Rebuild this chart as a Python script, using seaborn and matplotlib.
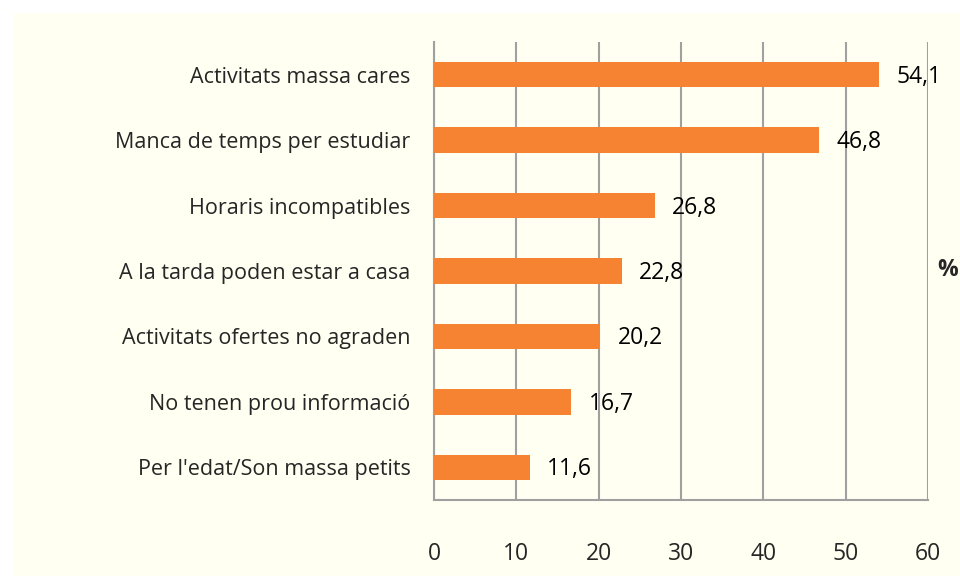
import matplotlib
matplotlib.use("Agg")
import matplotlib.pyplot as plt
from matplotlib.patches import Rectangle
import pandas as pd
import seaborn as sns

# ---------------- data ----------------
categories = [
    "Activitats massa cares",
    "Manca de temps per estudiar",
    "Horaris incompatibles",
    "A la tarda poden estar a casa",
    "Activitats ofertes no agraden",
    "No tenen prou informació",
    "Per l'edat/Son massa petits",
]
values = [54.1, 46.8, 26.8, 22.8, 20.2, 16.7, 11.6]
x_ticks = [0, 10, 20, 30, 40, 50, 60]

df = pd.DataFrame({"motiu": categories, "pct": values})

bg = "#FFFFF2"
bar_color = "#F68332"
grid_color = "#A0A0A0"

sns.set_theme(style="white")
plt.rcParams["font.family"] = ["Open Sans", "DejaVu Sans"]

fig = plt.figure(figsize=(9.6, 5.76), dpi=100)
fig.patch.set_facecolor("white")
fig.patches.append(Rectangle((13 / 960, 0), 1, 1 - 13 / 576, transform=fig.transFigure,
                             facecolor=bg, edgecolor="none", zorder=-10))

ax = fig.add_axes([434 / 960, 1 - 500 / 576, (928 - 434) / 960, (500 - 42) / 576])
ax.set_facecolor(bg)

sns.barplot(data=df, x="pct", y="motiu", color=bar_color, saturation=1,
            width=0.39, linewidth=0, edgecolor="none", ax=ax, zorder=3)

ax.set_xlim(0, 60)
ax.set_ylim(6.5, -0.5)
ax.set_xticks(x_ticks)
ax.set_xticklabels([str(t) for t in x_ticks], fontsize=16.5)
ax.tick_params(axis="x", direction="out", length=7, width=1.5, color=grid_color, pad=23)
ax.tick_params(axis="y", which="major", length=0, pad=17, labelsize=15.5)
ax.set_yticks([i - 0.5 for i in range(len(categories) + 1)], minor=True)
ax.tick_params(axis="y", which="minor", direction="out", length=7, width=1.5, color=grid_color)
ax.set_xlabel("")
ax.set_ylabel("")

ax.grid(axis="x", color=grid_color, linewidth=1.5, zorder=0)
ax.set_axisbelow(True)
for s in ["top", "right"]:
    ax.spines[s].set_visible(False)
for s in ["left", "bottom"]:
    ax.spines[s].set_color(grid_color)
    ax.spines[s].set_linewidth(1.5)

for i, v in enumerate(values):
    ax.text(v + 2.1, i + 0.03, f"{v:.1f}".replace(".", ","), va="center", ha="left",
            fontsize=16.5, color="black", zorder=4)

# axis unit, at the right edge
fig.text(958 / 960, 1 - 270 / 576, "%", fontsize=16.5, fontweight="bold", va="center", ha="right")

fig.savefig("out.png", dpi=100, facecolor=fig.get_facecolor())
